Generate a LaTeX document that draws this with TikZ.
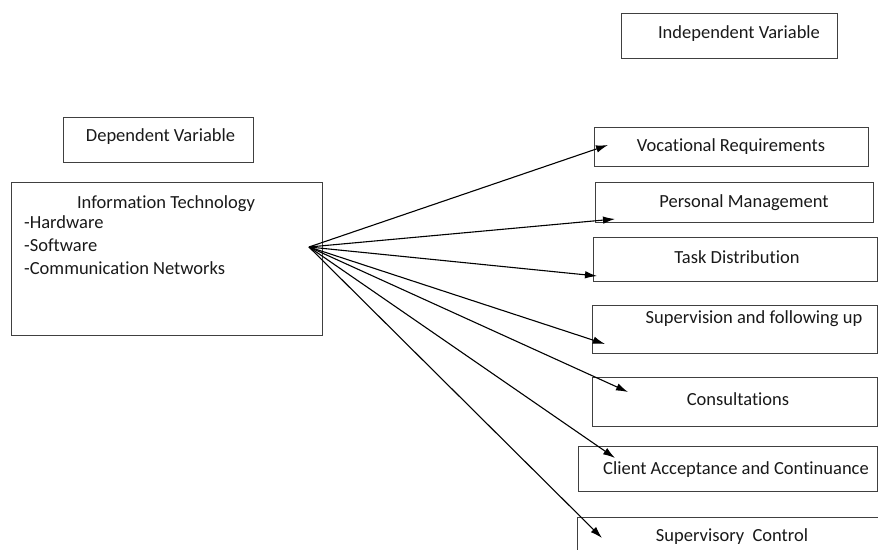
\documentclass[tikz,border=0pt]{standalone}
\usepackage{fontspec}
\setmainfont{Carlito}[Ligatures=NoCommon]
\usetikzlibrary{arrows.meta}

\begin{document}
\begin{tikzpicture}[x=1pt, y=-1pt, font=\fontsize{18.5}{23}\selectfont,
    box/.style={draw=black!75, line width=1pt, inner sep=0pt},
    txt/.style={inner sep=0pt, text=black!90},
    arrow/.style={-{Latex[length=12pt,width=7.5pt]}, line width=1.1pt}]
\useasboundingbox (0,0) rectangle (878,549);

% variable headings
\node[box, minimum width=216pt, minimum height=45pt] (ind) at (729,35.5) {};
\node[txt] (indt) at (739,34) {Independent Variable};
\node[box, minimum width=190pt, minimum height=45pt] (dep) at (158,139.5) {};
\node[txt] (dept) at (160.5,137) {Dependent Variable};

% dependent variable box
\node[box, minimum width=311pt, minimum height=153pt] (it) at (166.5,258.5) {};
\node[txt] (itt) at (166,204) {Information Technology};
\node[txt, anchor=north west, align=left] (itl) at (24,215) {-Hardware\\-Software\\-Communication Networks};

% independent variable boxes
\node[box, minimum width=274pt, minimum height=39pt] (voc) at (731,146.5) {};
\node[txt] (voct) at (731,147) {Vocational Requirements};
\node[box, minimum width=278pt, minimum height=40pt] (per) at (734,202) {};
\node[txt] (pert) at (744,203) {Personal Management};
\node[box, minimum width=284pt, minimum height=44pt] (task) at (735,259) {};
\node[txt] (taskt) at (737,257) {Task Distribution};
\node[box, minimum width=285pt, minimum height=48pt] (sup) at (734.5,329) {};
\node[txt] (supt) at (754,319) {Supervision and following up};
\node[box, minimum width=285pt, minimum height=49pt] (con) at (734.5,401.5) {};
\node[txt] (cont) at (738,399) {Consultations};
\node[box, minimum width=299pt, minimum height=45pt] (cli) at (727.5,468.5) {};
\node[txt] (clit) at (736,470) {Client Acceptance and Continuance};
\node[box, minimum width=305pt, minimum height=48pt] (svc) at (729.5,541) {};
\node[txt] (svct) at (732,537) {Supervisory\ \ Control};

% arrow ends
\coordinate (src) at (309,247);
\coordinate (t1) at (608,145);
\coordinate (t2) at (615,219);
\coordinate (t3) at (597,276);
\coordinate (t4) at (605,344);
\coordinate (t5) at (628,392);
\coordinate (t6) at (615,458);
\coordinate (t7) at (602,538);

\path[arrow]
    (src) edge (t1)
          edge (t2)
          edge (t3)
          edge (t4)
          edge (t5)
          edge (t6)
          edge (t7);
\end{tikzpicture}
\end{document}
